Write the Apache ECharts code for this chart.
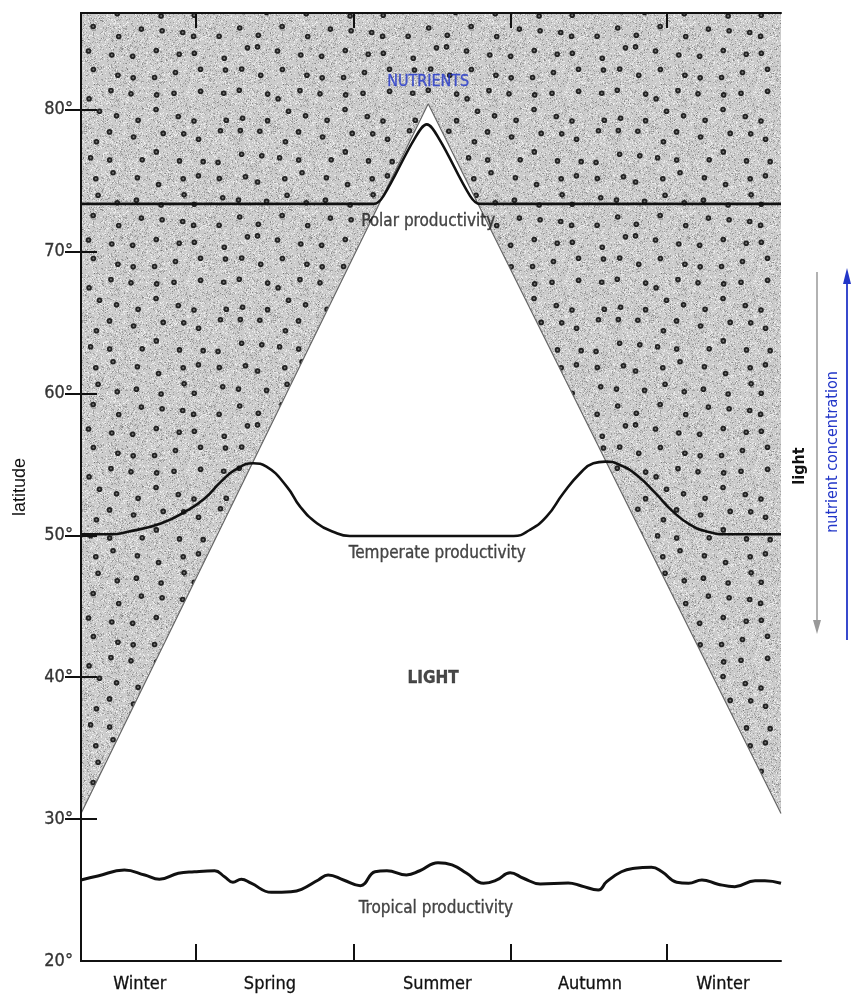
<!DOCTYPE html>
<html><head><meta charset="utf-8">
<script src="https://cdn.jsdelivr.net/npm/echarts@6/dist/echarts.min.js"></script>
<style>html,body{margin:0;padding:0;background:#fff}#c{width:853px;height:996px}</style>
</head><body><div id="c"></div>
<script>
// ---- data ----
const seasons = ['Winter', 'Spring', 'Summer', 'Autumn', 'Winter'];
const seasonLabelPos = [8.4, 27.0, 50.9, 72.7, 91.7];
const seasonBounds = [16.4, 38.9, 61.4, 83.7];
const latLabels = [20, 30, 40, 50, 60, 70, 80];
const latMin = 20, latMax = 86.8;
const lightTriangle = [[0, 30.4], [49.6, 80.4], [100, 30.4]];
const polar = [[0, 73.35], [41.8, 73.35], [43.2, 73.9], [47.6, 77.9], [49.4, 78.95], [51.2, 77.9], [55.6, 73.9], [57.0, 73.35], [100, 73.35]];
const temperate = [[0, 50.07], [4.3, 50.07], [6.7, 50.25], [11.5, 50.85], [15.3, 51.78], [17.7, 52.61], [20.0, 53.78], [22.0, 54.6], [24.6, 55.07], [26.5, 54.83], [29.4, 53.43], [31.3, 52.02], [33.7, 50.85], [36.0, 50.25], [38.4, 49.95], [61.8, 49.95], [64.1, 50.37], [66.5, 51.31], [68.9, 52.96], [71.3, 54.37], [73.2, 55.07], [74.9, 55.19], [77.0, 54.95], [79.5, 54.2], [82.0, 53.0], [84.5, 51.7], [87.0, 50.75], [89.5, 50.25], [92.5, 50.07], [100, 50.07]];
const tropical = [[0, 25.71], [2.4, 25.99], [6.2, 26.41], [9.1, 26.06], [11.2, 25.76], [13.9, 26.18], [16.2, 26.29], [19.1, 26.36], [20.5, 25.94], [21.7, 25.55], [22.9, 25.76], [24.3, 25.48], [27.2, 24.84], [30.0, 24.88], [31.5, 25.05], [33.9, 25.71], [35.3, 26.06], [37.5, 25.71], [39.9, 25.31], [42.0, 26.29], [43.7, 26.36], [46.5, 26.06], [48.4, 26.36], [51.0, 26.93], [53.0, 26.77], [55.1, 26.18], [57.5, 25.48], [59.4, 25.71], [61.3, 26.22], [63.2, 25.83], [65.6, 25.43], [69.6, 25.5], [71.5, 25.29], [73.9, 25.0], [75.1, 25.59], [77.2, 26.29], [79.1, 26.53], [81.5, 26.6], [83.0, 26.29], [85.1, 25.55], [86.8, 25.48], [88.7, 25.71], [91.0, 25.41], [93.4, 25.24], [96.3, 25.66], [97.7, 25.66], [100, 25.48]];
const annotations = [
  { text: 'NUTRIENTS', x: 49.6, y: 81.95, kind: 'blue' },
  { text: 'Polar productivity', x: 49.6, y: 72.08, kind: 'plain' },
  { text: 'Temperate productivity', x: 50.9, y: 48.68, kind: 'plain' },
  { text: 'LIGHT', x: 50.3, y: 39.87, kind: 'bold' },
  { text: 'Tropical productivity', x: 50.7, y: 23.66, kind: 'plain' }
];

// ---- style ----
const FONT = "'Liberation Sans Narrow', 'DejaVu Sans Condensed', 'Liberation Sans', sans-serif";
const BLUE = '#2236c8';

function makeStipple() {
  const s = 189, c = document.createElement('canvas');
  c.width = c.height = s;
  const g = c.getContext('2d');
  let seed = 24681357;
  const rnd = () => { seed = (Math.imul(seed, 1664525) + 1013904223) >>> 0; return seed / 4294967296; };
  g.fillStyle = '#cbcbcb'; g.fillRect(0, 0, s, s);
  for (let i = 0; i < 12000; i++) {
    const x = (rnd() * s) | 0, y = (rnd() * s) | 0, v = rnd();
    g.fillStyle = v < 0.5 ? 'rgba(255,255,255,0.6)' : 'rgba(80,80,80,0.35)';
    g.fillRect(x, y, 1, 1);
  }
  const step = 21;
  for (let gy = 0; gy < s / step; gy++) for (let gx = 0; gx < s / step; gx++) {
    const x = gx * step + step / 2 + (rnd() - 0.5) * 12;
    const y = gy * step + step / 2 + (rnd() - 0.5) * 12;
    g.beginPath(); g.arc(x, y, 2.8, 0, Math.PI * 2); g.fillStyle = '#222'; g.fill();
    g.beginPath(); g.arc(x, y, 1.0, 0, Math.PI * 2); g.fillStyle = '#777'; g.fill();
  }
  return c;
}

const chart = echarts.init(document.getElementById('c'), null, { renderer: 'canvas' });
const axisLineStyle = { color: '#111', width: 2 };
const latTickVals = latLabels.slice(1);

chart.setOption({
  animation: false,
  backgroundColor: '#fff',
  grid: { left: 81, right: 72, top: 13, bottom: 35, containLabel: false },
  xAxis: [
    {
      type: 'value', min: 0, max: 100, position: 'bottom', z: 10,
      axisLine: { show: true, lineStyle: axisLineStyle },
      axisTick: { show: true, inside: true, length: 17, customValues: seasonBounds, lineStyle: { color: '#111', width: 2 } },
      axisLabel: {
        customValues: seasonLabelPos, margin: 14,
        formatter: v => seasons[seasonLabelPos.indexOf(v)] || '',
        color: '#111', fontSize: 18, fontFamily: FONT, textBorderColor: '#111', textBorderWidth: 0.3
      },
      splitLine: { show: false }
    },
    {
      type: 'value', min: 0, max: 100, position: 'top', z: 10,
      axisLine: { show: true, lineStyle: axisLineStyle },
      axisTick: { show: true, inside: true, length: 15, customValues: seasonBounds, lineStyle: { color: '#111', width: 2 } },
      axisLabel: { show: false }, splitLine: { show: false }
    }
  ],
  yAxis: [
    {
      type: 'value', min: latMin, max: latMax, position: 'left', z: 10,
      name: 'latitude', nameLocation: 'middle', nameRotate: 90, nameGap: 52,
      nameTextStyle: { color: '#111', fontSize: 18, fontFamily: "'Liberation Sans', sans-serif" },
      axisLine: { show: true, lineStyle: axisLineStyle },
      axisTick: { show: true, inside: true, length: 16, customValues: latTickVals, lineStyle: { color: '#111', width: 2 } },
      axisLabel: { customValues: latLabels, formatter: v => v + '°', color: '#333', fontSize: 18, fontFamily: FONT, margin: 8, textBorderColor: '#333', textBorderWidth: 0.3 },
      splitLine: { show: false }
    },
    {
      type: 'value', min: latMin, max: latMax, position: 'right', z: 10,
      axisLine: { show: true, lineStyle: axisLineStyle },
      axisTick: { show: true, inside: true, length: 16, customValues: latTickVals, lineStyle: { color: '#111', width: 2 } },
      axisLabel: { show: false }, splitLine: { show: false }
    }
  ],
  series: [
    {
      type: 'line', name: 'nutrients', data: lightTriangle, symbol: 'none', z: 1,
      lineStyle: { color: '#666', width: 1.2 },
      areaStyle: { origin: 'end', opacity: 1, color: { image: makeStipple(), repeat: 'repeat' } }
    },
    { type: 'line', name: 'polar', data: polar, symbol: 'none', smooth: 0.35, z: 3, lineStyle: { color: '#111', width: 2.6 } },
    { type: 'line', name: 'temperate', data: temperate, symbol: 'none', smooth: 0.5, z: 3, lineStyle: { color: '#111', width: 2.6 } },
    { type: 'line', name: 'tropical', data: tropical, symbol: 'none', smooth: 0.45, z: 3, lineStyle: { color: '#111', width: 3 } },
    {
      type: 'scatter', name: 'labels', symbolSize: 0, z: 5, silent: true,
      data: annotations.map(a => {
        const col = a.kind === 'blue' ? BLUE : '#1a1a1a';
        return {
          value: [a.x, a.y],
          label: {
            show: true, position: 'inside', formatter: a.text, fontFamily: FONT,
            fontSize: a.kind === 'blue' ? 16 : 17,
            fontWeight: a.kind === 'bold' ? 'bold' : 'normal',
            color: col, textBorderColor: col, textBorderWidth: 0.35
          }
        };
      })
    }
  ],
  graphic: [
    { type: 'line', shape: { x1: 817, y1: 272, x2: 817, y2: 622 }, style: { stroke: '#999', lineWidth: 1.5 } },
    { type: 'polygon', shape: { points: [[813, 620], [821, 620], [817, 634]] }, style: { fill: '#999' } },
    { type: 'line', shape: { x1: 847, y1: 640, x2: 847, y2: 282 }, style: { stroke: BLUE, lineWidth: 1.8 } },
    { type: 'polygon', shape: { points: [[843, 284], [851, 284], [847, 268]] }, style: { fill: BLUE } },
    { type: 'text', x: 800, y: 466, rotation: Math.PI / 2, style: { text: 'light', fill: '#111', font: "bold 16px " + FONT, textAlign: 'center', textVerticalAlign: 'middle' } },
    { type: 'text', x: 833, y: 452, rotation: Math.PI / 2, style: { text: 'nutrient concentration', fill: BLUE, font: "16px " + FONT, textAlign: 'center', textVerticalAlign: 'middle' } }
  ]
});
</script>
</body></html>
